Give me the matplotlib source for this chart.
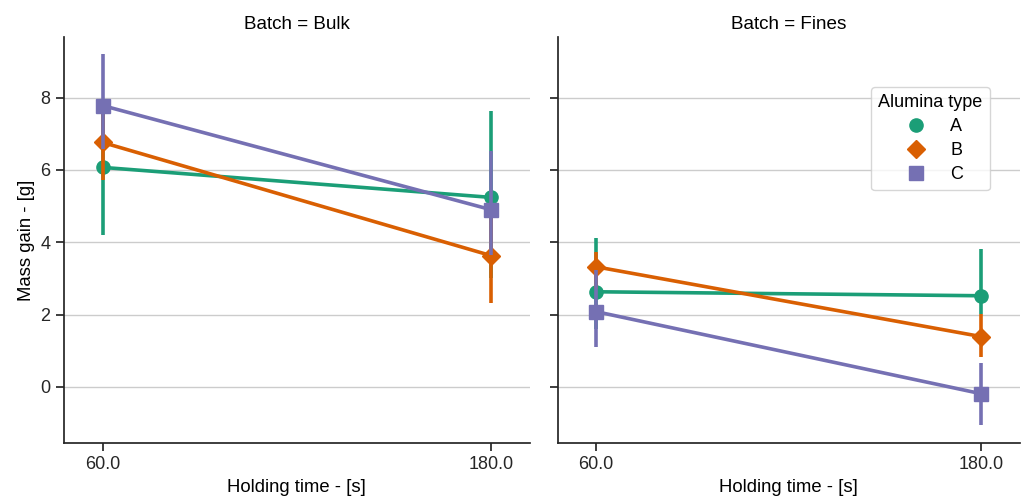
import matplotlib.pyplot as plt
import numpy as np

plt.rcParams['font.family'] = ['Liberation Sans', 'DejaVu Sans']

batches = ["Bulk", "Fines"]
times = ["60.0", "180.0"]
types = ["A", "B", "C"]
colors = ["#1b9e77", "#d95f02", "#7570b3"]
markers = ["o", "D", "s"]

# mean mass gain per batch, type, holding time
means = {
    "Bulk": {"A": [6.07, 5.24], "B": [6.76, 3.63], "C": [7.78, 4.90]},
    "Fines": {"A": [2.63, 2.52], "B": [3.32, 1.39], "C": [2.08, -0.19]},
}
# confidence intervals (low, high)
ci_low = {
    "Bulk": {"A": [4.21, 3.00], "B": [5.73, 2.33], "C": [6.57, 3.66]},
    "Fines": {"A": [1.60, 2.02], "B": [2.70, 0.83], "C": [1.11, -1.05]},
}
ci_high = {
    "Bulk": {"A": [7.90, 7.62], "B": [7.80, 4.90], "C": [9.20, 6.51]},
    "Fines": {"A": [4.12, 3.82], "B": [3.74, 2.02], "C": [3.24, 0.66]},
}

fig = plt.figure(figsize=(10.27, 4.96), dpi=100)
ax1 = fig.add_axes([0.062, 0.107, 0.454, 0.818])
ax2 = fig.add_axes([0.543, 0.107, 0.450, 0.818], sharey=ax1)
axes = [ax1, ax2]

x = np.arange(len(times))
for ax, b in zip(axes, batches):
    for t, c, m in zip(types, colors, markers):
        ax.plot(x, means[b][t], color=c, lw=2.6, marker=m, ms=9.5,
                label=t, zorder=3)
        for xi, lo, hi in zip(x, ci_low[b][t], ci_high[b][t]):
            ax.plot([xi, xi], [lo, hi], color=c, lw=2.6, zorder=3,
                    solid_capstyle='butt')
    ax.set_xticks(x)
    ax.set_xticklabels(times)
    ax.set_xlim(-0.1, 1.1)
    ax.set_xlabel("Holding time - [s]", fontsize=13.3)
    ax.set_title("Batch = " + b, fontsize=13.6)
    ax.yaxis.grid(True, color="#cccccc", lw=1)
    ax.set_axisbelow(True)
    for s in ["top", "right"]:
        ax.spines[s].set_visible(False)
    for s in ["left", "bottom"]:
        ax.spines[s].set_color("#262626")
        ax.spines[s].set_linewidth(1.25)
    ax.tick_params(colors="#262626", width=1.25, length=6, labelsize=13)

ax1.set_ylim(-1.55, 9.67)
ax1.set_yticks([0, 2, 4, 6, 8])
ax1.set_ylabel("Mass gain - [g]", fontsize=13.3)
plt.setp(ax2.get_yticklabels(), visible=False)

handles = [plt.Line2D([], [], ls="", marker=m, color=c, ms=9.5)
           for c, m in zip(colors, markers)]
leg = ax2.legend(handles, types, title="Alumina type", loc="upper right",
                 bbox_to_anchor=(0.935, 0.877), borderaxespad=0,
                 fontsize=13, title_fontsize=13, labelspacing=0.38,
                 handletextpad=0.9, frameon=True)
leg.get_frame().set_edgecolor("#cccccc")

fig.savefig("out.png", dpi=100)
